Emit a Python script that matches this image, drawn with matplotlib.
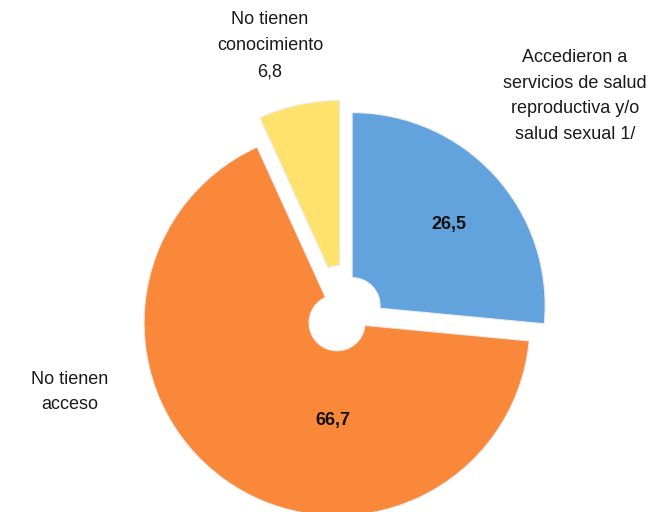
import matplotlib
matplotlib.use("Agg")
import matplotlib.pyplot as plt
from matplotlib import font_manager

categories = ["Accedieron a\nservicios de salud\nreproductiva y/o\nsalud sexual 1/",
              "No tienen\nacceso",
              "No tienen\nconocimiento"]
values = [26.5, 66.7, 6.8]
colors = ["#62A3DE", "#FA883B", "#FFE26E"]
explode = [11, 12, 20]   # offsets in pixels (data units)

names = {f.name for f in font_manager.fontManager.ttflist}
fam = ["Liberation Sans Narrow", "Liberation Sans", "DejaVu Sans"]
fam = [f for f in fam if f in names] or ["DejaVu Sans"]
plt.rcParams["font.family"] = fam

W, H = 658, 512
fig = plt.figure(figsize=(W / 100, H / 100), dpi=100)
ax = fig.add_axes([0, 0, 1, 1])

R = 193
ax.pie(values, colors=colors, explode=explode, startangle=90, counterclock=False,
       radius=R, center=(344, 199), frame=True,
       wedgeprops=dict(width=R - 28, linewidth=0.8, edgecolor="#ececec"))
ax.set_xlim(0, W)
ax.set_ylim(0, H)
ax.set_aspect("equal")
ax.axis("off")

fmt = lambda v: f"{v:.1f}".replace(".", ",")

ax.text(575, 416, categories[0], ha="center", va="center", fontsize=13,
        linespacing=1.65, color="#1a1a1a")
ax.text(70, 120, categories[1], ha="center", va="center", fontsize=13,
        linespacing=1.6, color="#1a1a1a")
ax.text(270, 466, categories[2] + "\n" + fmt(values[2]), ha="center", va="center",
        fontsize=13, linespacing=1.7, color="#1a1a1a")
ax.text(449, 288, fmt(values[0]), ha="center", va="center", fontsize=13,
        fontweight="bold", color="#111111")
ax.text(333, 91, fmt(values[1]), ha="center", va="center", fontsize=13,
        fontweight="bold", color="#111111")

fig.savefig("out.png", dpi=100, facecolor="white")
